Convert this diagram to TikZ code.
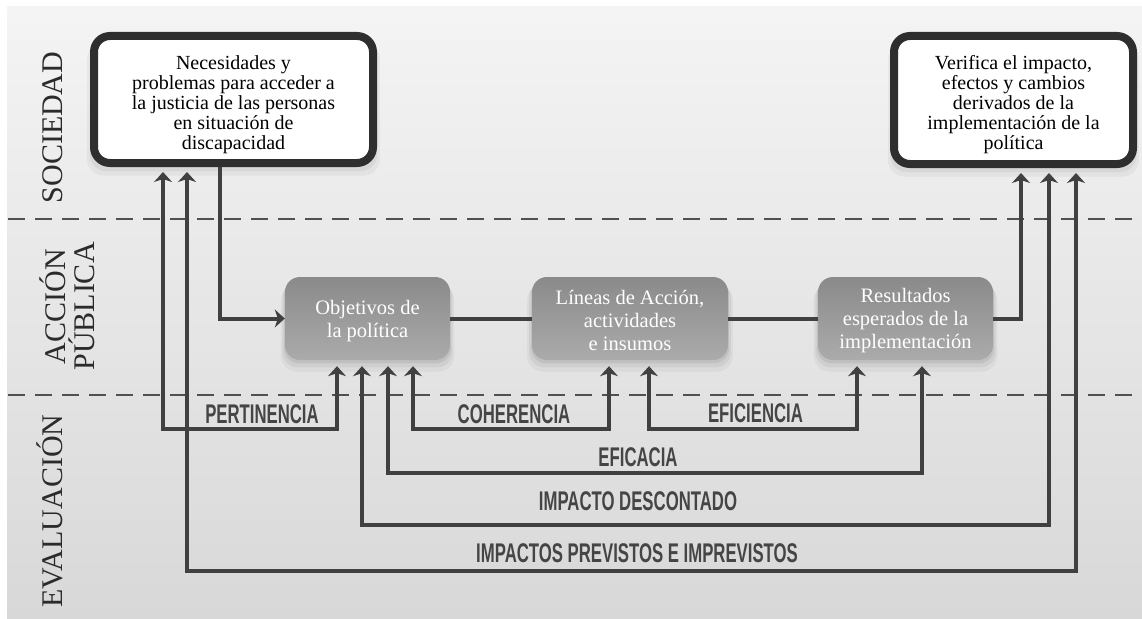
\documentclass[tikz,border=0pt]{standalone}
\usepackage{fontspec}
\setmainfont{Liberation Serif}
\newfontfamily\lblfont[FakeStretch=0.62,UprightFont=* Bold]{Liberation Sans}
\usetikzlibrary{arrows.meta,shadows}
\definecolor{ln}{HTML}{404040}
\definecolor{bd}{HTML}{2E2E2E}
\definecolor{lblc}{HTML}{454545}
\definecolor{sidec}{HTML}{2B2B2B}
\definecolor{sepc}{HTML}{505050}
\definecolor{bgtop}{HTML}{F4F4F4}
\definecolor{bgbot}{HTML}{D8D8D8}
\definecolor{boxtop}{HTML}{8A8A8A}
\definecolor{boxbot}{HTML}{ABABAB}
\begin{document}
\begin{tikzpicture}[x=1pt,y=-1pt,
  conn/.style={draw=ln,line width=4pt},
  arr/.tip={Stealth[length=10pt,width=18pt,inset=3pt]},
  softshadow/.style={general shadow={shadow yshift=-9pt,shadow scale=1.05,fill=black,opacity=0.04},
                     general shadow={shadow yshift=-6pt,shadow scale=1.03,fill=black,opacity=0.05},
                     general shadow={shadow yshift=-3pt,shadow scale=1.01,fill=black,opacity=0.07}},
  topbox/.style={draw=bd,line width=8pt,fill=white,rounded corners=16pt,align=center,
                 font=\fontsize{20}{20}\selectfont,inner sep=0pt,softshadow},
  midbox/.style={rounded corners=15pt,top color=boxtop,bottom color=boxbot,text=white,align=center,
                 font=\fontsize{20.5}{23}\selectfont,minimum height=83pt,inner sep=0pt,softshadow},
  lbl/.style={text=lblc,font=\lblfont\fontsize{27}{27}\selectfont,anchor=base,inner sep=0pt},
  side/.style={rotate=90,anchor=base,font=\fontsize{30}{30}\selectfont,text=sidec,inner sep=0pt},
  sep/.style={draw=sepc,line width=2pt,dash pattern=on 17pt off 10pt}
]
\useasboundingbox (0,0) rectangle (1142,618);
\shade[top color=bgtop,bottom color=bgbot] (7,7) rectangle (1142,618);

% separators
\coordinate (s1a) at (8,219); \coordinate (s1b) at (1142,219);
\coordinate (s2a) at (8,395); \coordinate (s2b) at (1142,395);
\draw[sep] (s1a) -- (s1b);
\draw[sep] (s2a) -- (s2b);

% side labels
\node[side] (tS) at (62,127.5) {SOCIEDAD};
\node[side] (tA1) at (65,306.5) {ACCIÓN};
\node[side] (tA2) at (94,306.5) {PÚBLICA};
\node[side] (tE) at (62,511) {EVALUACIÓN};

% boxes
\node[topbox,minimum width=279pt,minimum height=127pt] (L) at (233.5,99.5)
  {\rule{0pt}{24pt}Necesidades y\\problemas para acceder a\\la justicia de las personas\\en situación de\\discapacidad};
\node[topbox,minimum width=239pt,minimum height=128pt] (R) at (1013.5,100)
  {\rule{0pt}{24pt}Verifica el impacto,\\efectos y cambios\\derivados de la\\implementación de la\\política};
\node[midbox,minimum width=165pt] (O) at (367.5,318.5) {\rule{0pt}{19pt}Objetivos de\\la política};
\node[midbox,minimum width=196pt] (A) at (630,318.5) {\rule{0pt}{18pt}Líneas de Acción,\\actividades\\e insumos};
\node[midbox,minimum width=175pt] (S) at (905.5,318.5) {\rule{0pt}{18pt}Resultados\\esperados de la\\implementación};

% columns and levels
\coordinate (c1) at (163,0);  \coordinate (c2) at (187,0);  \coordinate (c3) at (220,0);
\coordinate (c4) at (337,0);  \coordinate (c5) at (362,0);  \coordinate (c6) at (388,0);
\coordinate (c7) at (413,0);  \coordinate (c8) at (609,0);  \coordinate (c9) at (649,0);
\coordinate (c10) at (857,0); \coordinate (c11) at (922,0); \coordinate (c12) at (1021,0);
\coordinate (c13) at (1049,0); \coordinate (c14) at (1076,0);
\coordinate (h1) at (0,429); \coordinate (h2) at (0,473);
\coordinate (h3) at (0,525); \coordinate (h4) at (0,571);

% main flow
\draw[conn,-{arr}] (c3 |- L.south) |- (O.west);
\draw[conn] (O.east) -- (A.west);
\draw[conn] (A.east) -- (S.west);
\draw[conn,-{arr},shorten >=5pt] (S.east) -| (c12 |- R.south);

% evaluation brackets
\draw[conn,{arr}-{arr},shorten <=5pt,shorten >=6pt] (c1 |- L.south) |- (c4 |- h1) -- (c4 |- O.south);
\draw[conn,{arr}-{arr},shorten <=6pt,shorten >=6pt] (c7 |- O.south) |- (c8 |- h1) -- (c8 |- A.south);
\draw[conn,{arr}-{arr},shorten <=6pt,shorten >=6pt] (c9 |- A.south) |- (c10 |- h1) -- (c10 |- S.south);
\draw[conn,{arr}-{arr},shorten <=6pt,shorten >=6pt] (c6 |- O.south) |- (c11 |- h2) -- (c11 |- S.south);
\draw[conn,{arr}-{arr},shorten <=6pt,shorten >=5pt] (c5 |- O.south) |- (c13 |- h3) -- (c13 |- R.south);
\draw[conn,{arr}-{arr},shorten <=5pt,shorten >=5pt] (c2 |- L.south) |- (c14 |- h4) -- (c14 |- R.south);

% labels
\node[lbl] (l1) at (262,423) {PERTINENCIA};
\node[lbl] (l2) at (514,423) {COHERENCIA};
\node[lbl] (l3) at (755.5,422) {EFICIENCIA};
\node[lbl] (l4) at (638,466) {EFICACIA};
\node[lbl] (l5) at (638,510) {IMPACTO DESCONTADO};
\node[lbl] (l6) at (637,562) {IMPACTOS PREVISTOS E IMPREVISTOS};
\end{tikzpicture}
\end{document}
